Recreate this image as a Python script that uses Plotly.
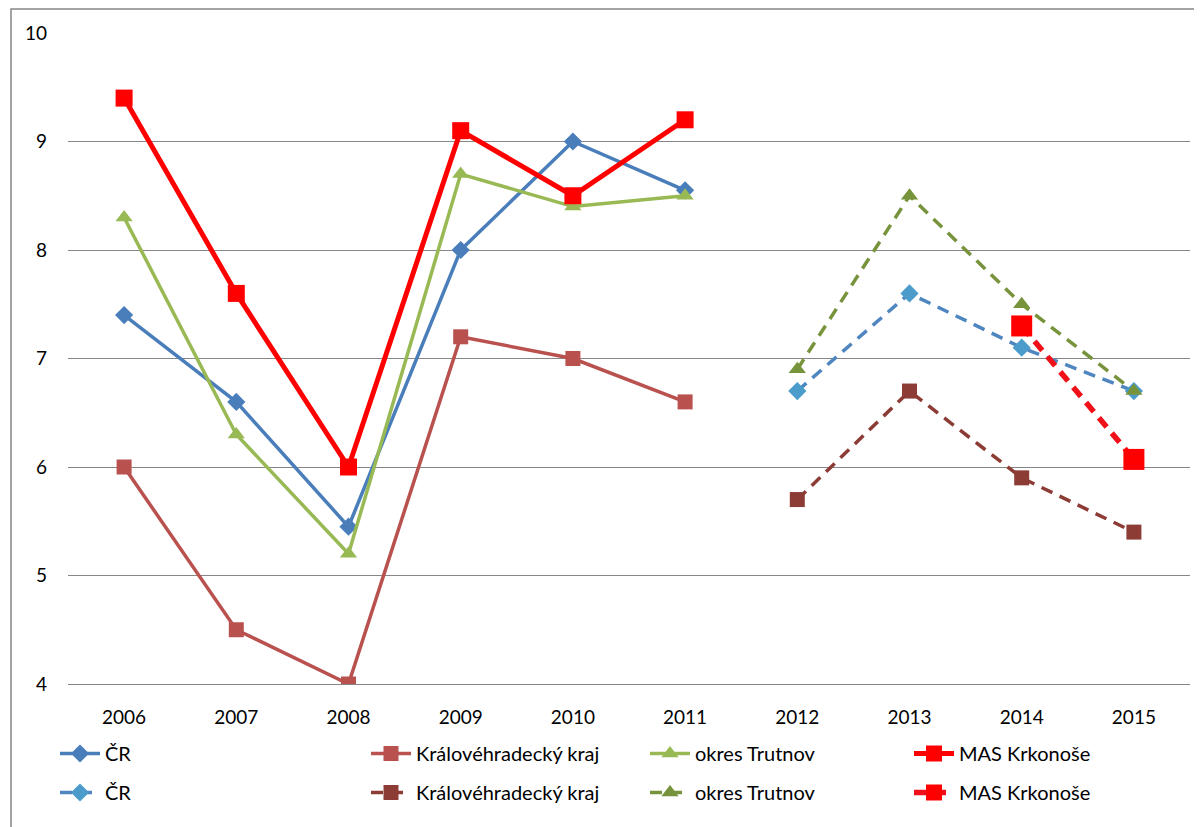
import plotly.graph_objects as go

years = ["2006", "2007", "2008", "2009", "2010", "2011", "2012", "2013", "2014", "2015"]

cr_solid = [7.4, 6.6, 5.45, 8.0, 9.0, 8.55, None, None, None, None]
khk_solid = [6.0, 4.5, 4.0, 7.2, 7.0, 6.6, None, None, None, None]
trut_solid = [8.3, 6.3, 5.2, 8.7, 8.4, 8.5, None, None, None, None]
mas_solid = [9.4, 7.6, 6.0, 9.1, 8.5, 9.2, None, None, None, None]

cr_dash = [None, None, None, None, None, None, 6.7, 7.6, 7.1, 6.7]
khk_dash = [None, None, None, None, None, None, 5.7, 6.7, 5.9, 5.4]
trut_dash = [None, None, None, None, None, None, 6.9, 8.5, 7.5, 6.7]
mas_dash = [None, None, None, None, None, None, None, None, 7.3, 6.07]

FONT = "Lato, 'Liberation Sans', sans-serif"
W, H = 1194, 819          # page body has an 8px offset
L, R, T, B = 60, 12, 25, 143
PW, PH = W - L - R, H - T - B

fig = go.Figure()

def add(name, y, color, mcolor, symbol, msize, width, dash, legend, grp):
    fig.add_trace(go.Scatter(
        x=years, y=y, name=name, mode="lines+markers",
        line=dict(color=color, width=width, dash=dash),
        marker=dict(symbol=symbol, size=msize, color=mcolor, line=dict(width=0)),
        connectgaps=False, legend=legend, legendgroup=grp,
    ))

DASH = "12px,8px"
add("ČR", cr_solid, "#4A7EBB", "#4A7EBB", "diamond", 14, 3.5, "solid", "legend", "a1")
add("ČR", cr_dash, "#4F86C0", "#4B9CCB", "diamond", 14, 3.5, DASH, "legend", "a2")
add("Královéhradecký kraj", khk_solid, "#B9514E", "#B9514E", "square", 15, 3.5, "solid", "legend2", "b1")
add("Královéhradecký kraj", khk_dash, "#8C3B35", "#8C3B35", "square", 15, 3.5, DASH, "legend2", "b2")
add("okres Trutnov", trut_solid, "#98B954", "#98B954", "triangle-up", 15, 3.5, "solid", "legend3", "c1")
add("okres Trutnov", trut_dash, "#77933C", "#77933C", "triangle-up", 15, 3.5, DASH, "legend3", "c2")
add("MAS Krkonoše", mas_solid, "#FF0000", "#FF0000", "square", 17, 5, "solid", "legend4", "d1")
add("MAS Krkonoše", mas_dash, "#F0101A", "#FF0000", "square", 21, 5.5, DASH, "legend4", "d2")

legend_common = dict(
    orientation="v", yanchor="top", xanchor="left",
    xref="container", yref="container",
    font=dict(family=FONT, size=20, color="#000000"),
    bgcolor="rgba(0,0,0,0)", tracegroupgap=10, itemwidth=40,
)
ytop = 1 - 726 / H
fig.update_layout(
    legend=dict(x=47 / W, y=ytop, **legend_common),
    legend2=dict(x=358 / W, y=ytop, **legend_common),
    legend3=dict(x=637 / W, y=ytop, **legend_common),
    legend4=dict(x=901 / W, y=ytop, **legend_common),
)

fig.update_layout(
    width=W, height=H,
    margin=dict(l=L, r=R, t=T, b=B, autoexpand=False),
    paper_bgcolor="white", plot_bgcolor="white",
    font=dict(family=FONT, size=19, color="#000000"),
    showlegend=True,
    xaxis=dict(type="category", range=[-0.5, 9.5], showgrid=False, showline=True,
               linecolor="#868686", linewidth=1,
               ticks="", ticklabelstandoff=16, tickfont=dict(size=19), zeroline=False, automargin=False),
    yaxis=dict(range=[4, 10], dtick=1, showgrid=True, gridcolor="#868686", gridwidth=1,
               showline=False, zeroline=False, ticks="", ticklabelstandoff=20,
               tickfont=dict(size=19), automargin=False),
)

fig.add_shape(type="rect", xref="paper", yref="paper",
              x0=(3 - L) / PW, x1=(1191 - L) / PW,
              y0=(T + PH - 835) / PH, y1=(T + PH - 1) / PH,
              line=dict(color="#868686", width=1.5), fillcolor="rgba(0,0,0,0)", layer="below")

fig.write_html("out.html")
